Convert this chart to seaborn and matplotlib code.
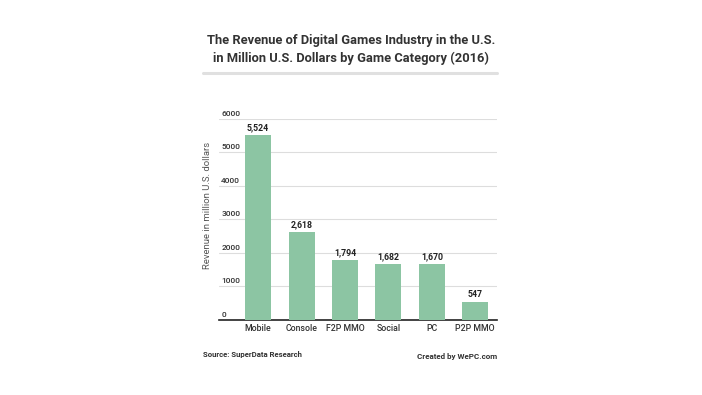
import seaborn as sns
import matplotlib.pyplot as plt
from matplotlib.lines import Line2D

sns.set_style('white')
plt.rcParams['font.family'] = ['Roboto', 'DejaVu Sans']

categories = ['Mobile', 'Console', 'F2P MMO', 'Social', 'PC', 'P2P MMO']
revenue = [5524, 2618, 1794, 1682, 1670, 547]
yticks = [0, 1000, 2000, 3000, 4000, 5000, 6000]

fig = plt.figure(figsize=(7.02, 3.95), dpi=100)
ax = fig.add_axes([0.312, 0.19, 0.396, 0.509])

sns.barplot(x=categories, y=revenue, color='#8cc5a3', width=0.6, saturation=1,
            linewidth=0, ax=ax, zorder=3)

ax.set_ylim(0, 6000)
ax.set_xlim(-0.9, 5.5)
ax.set_yticks(yticks)
ax.set_yticklabels([])
ax.tick_params(axis='y', length=0)
ax.tick_params(axis='x', length=0, labelsize=6.3, colors='#333333', pad=3)
for lbl in ax.get_xticklabels():
    lbl.set_fontweight('medium')
ax.yaxis.grid(True, color='#dddddd', linewidth=0.8, zorder=0)
for t in yticks:
    ax.text(0.008, t + 60, str(t), transform=ax.get_yaxis_transform(), fontsize=6,
            fontweight='medium', color='#333333', ha='left', va='bottom')
for s in ['top', 'right', 'left']:
    ax.spines[s].set_visible(False)
ax.spines['bottom'].set_color('#222222')
ax.spines['bottom'].set_linewidth(1.2)
ax.set_ylabel('Revenue in million U.S. dollars', fontsize=6.8, color='#555555', labelpad=0)
ax.yaxis.set_label_coords(-0.027, 0.57)

for i, v in enumerate(revenue):
    ax.text(i, v + 80, f'{v:,}', ha='center', va='bottom', fontsize=6.3,
            fontweight='bold', color='#222222')

fig.text(0.5, 0.897, 'The Revenue of Digital Games Industry in the U.S.', ha='center', va='center',
         fontsize=9.3, fontweight='bold', color='#333333')
fig.text(0.5, 0.851, 'in Million U.S. Dollars by Game Category (2016)', ha='center', va='center',
         fontsize=9.3, fontweight='bold', color='#333333')
fig.add_artist(Line2D([203 / 702, 497 / 702], [1 - 73 / 395, 1 - 73 / 395],
                      color='#e0e0e0', linewidth=2.2, transform=fig.transFigure))

fig.text(203 / 702, 1 - 354 / 395, 'Source: SuperData Research', ha='left', va='center',
         fontsize=5.6, fontweight='bold', color='#333333')
fig.text(497 / 702, 1 - 356 / 395, 'Created by WePC.com', ha='right', va='center',
         fontsize=5.8, fontweight='bold', color='#333333')

fig.savefig('out.png', dpi=100)
